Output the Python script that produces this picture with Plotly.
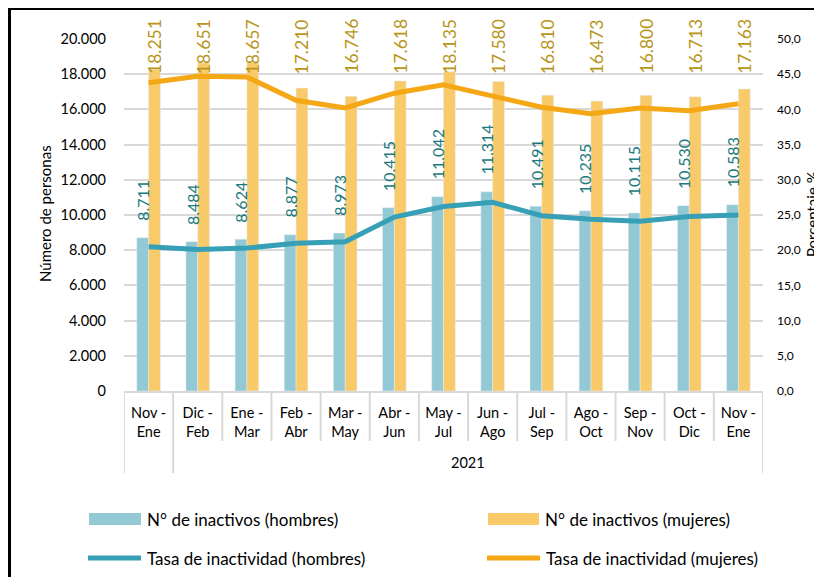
import plotly.graph_objects as go

# ---------------- data ----------------
periods = ["Nov -<br>Ene", "Dic -<br>Feb", "Ene -<br>Mar", "Feb -<br>Abr", "Mar -<br>May",
           "Abr -<br>Jun", "May -<br>Jul", "Jun -<br>Ago", "Jul -<br>Sep", "Ago -<br>Oct",
           "Sep -<br>Nov", "Oct -<br>Dic", "Nov -<br>Ene"]
year_label = "2021"
inactivos_hombres = [8711, 8484, 8624, 8877, 8973, 10415, 11042, 11314, 10491, 10235, 10115, 10530, 10583]
inactivos_mujeres = [18251, 18651, 18657, 17210, 16746, 17618, 18135, 17580, 16810, 16473, 16800, 16713, 17163]
tasa_hombres = [20.5, 20.1, 20.3, 21.0, 21.2, 24.7, 26.2, 26.8, 24.9, 24.4, 24.1, 24.8, 25.0]
tasa_mujeres = [43.8, 44.7, 44.6, 41.3, 40.2, 42.3, 43.5, 41.9, 40.3, 39.4, 40.2, 39.8, 40.8]
left_ticks = list(range(0, 20001, 2000))
right_ticks = [i * 5 for i in range(11)]

# ---------------- style ----------------
FONT = "Lato, Liberation Sans, Arial, sans-serif"
C_BAR_H = "#92C9D4"
C_BAR_M = "#F9CA6A"
C_LINE_H = "#37A0B6"
C_LINE_M = "#F5A815"
C_TXT_H = "#1A7A80"
C_TXT_M = "#B8951A"
GRID = "#D9D9D9"

OFF = 8  # page body margin offset
W, H = 822 - OFF, 577 - OFF
ML, MR, MT, MB = 124 - OFF, 59, 39 - OFF, 186
PW, PH = W - ML - MR, H - MT - MB


def px(xp):
    # page pixel x -> paper fraction
    return (xp - OFF - ML) / PW


def py(yp):
    # page pixel y -> paper fraction
    return (H - MB - (yp - OFF)) / PH


def fmt(v):
    return f"{v:,}".replace(",", ".")


xs = list(range(len(periods)))

fig = go.Figure()
fig.add_trace(go.Bar(x=xs, y=inactivos_hombres, name="N° de inactivos (hombres)",
                     marker_color=C_BAR_H, showlegend=False))
fig.add_trace(go.Bar(x=xs, y=inactivos_mujeres, name="N° de inactivos (mujeres)",
                     marker_color=C_BAR_M, showlegend=False))
fig.add_trace(go.Scatter(x=xs, y=tasa_hombres, name="Tasa de inactividad (hombres)", yaxis="y2",
                         mode="lines", line=dict(color=C_LINE_H, width=5), showlegend=False))
fig.add_trace(go.Scatter(x=xs, y=tasa_mujeres, name="Tasa de inactividad (mujeres)", yaxis="y2",
                         mode="lines", line=dict(color=C_LINE_M, width=5), showlegend=False))

annotations = []
shapes = []

# bar value labels
group_frac = 0.48
bar_off = PW / len(periods) * group_frac / 4
for i, v in enumerate(inactivos_hombres):
    annotations.append(dict(x=i, y=v, xref="x", yref="y", text=fmt(v), textangle=-90,
                            showarrow=False, xanchor="center", yanchor="bottom",
                            xshift=-bar_off, yshift=15,
                            font=dict(family=FONT, size=16, color=C_TXT_H)))
for i, v in enumerate(inactivos_mujeres):
    annotations.append(dict(x=i, y=py(76), xref="x", yref="paper", text=fmt(v), textangle=-90,
                            showarrow=False, xanchor="center", yanchor="bottom",
                            xshift=bar_off, yshift=0,
                            font=dict(family=FONT, size=17.5, color=C_TXT_M)))

# category separators (multi-level axis look)
for k in range(len(periods) + 1):
    xb = k - 0.5
    long = k in (0, 1, len(periods))
    shapes.append(dict(type="line", xref="x", yref="paper", x0=xb, x1=xb,
                       y0=0, y1=py(473) if long else py(441),
                       line=dict(color=GRID, width=2), layer="below"))
annotations.append(dict(x=(1 + len(periods) - 1) / 2, y=py(462), xref="x", yref="paper",
                        text=year_label, showarrow=False, xanchor="center", yanchor="middle",
                        font=dict(family=FONT, size=14.5, color="#000000")))

# axis titles
annotations.append(dict(x=px(45), y=py(214), xref="paper", yref="paper", text="Número de personas",
                        textangle=-90, showarrow=False, xanchor="center", yanchor="middle",
                        font=dict(family=FONT, size=15, color="#000000")))
annotations.append(dict(x=px(812), y=py(214), xref="paper", yref="paper", text="Porcentaje %",
                        textangle=-90, showarrow=False, xanchor="center", yanchor="middle",
                        font=dict(family=FONT, size=15, color="#000000")))

# custom legend
legend_items = [
    ("bar", C_BAR_H, "N° de inactivos (hombres)", 89, 141, 519),
    ("bar", C_BAR_M, "N° de inactivos (mujeres)", 488, 539, 519),
    ("line", C_LINE_H, "Tasa de inactividad (hombres)", 88, 141, 558),
    ("line", C_LINE_M, "Tasa de inactividad (mujeres)", 487, 540, 558),
]
for kind, col, label, x0, x1, yc in legend_items:
    if kind == "bar":
        shapes.append(dict(type="rect", xref="paper", yref="paper", x0=px(x0), x1=px(x1),
                           y0=py(yc + 6), y1=py(yc - 6), line=dict(width=0), fillcolor=col))
    else:
        shapes.append(dict(type="line", xref="paper", yref="paper", x0=px(x0), x1=px(x1),
                           y0=py(yc), y1=py(yc), line=dict(color=col, width=5)))
    annotations.append(dict(x=px(x1 + 4), y=py(yc), xref="paper", yref="paper", text=label,
                            showarrow=False, xanchor="left", yanchor="middle",
                            font=dict(family=FONT, size=17, color="#000000")))

# outer border
shapes.append(dict(type="rect", xref="paper", yref="paper", x0=px(9.5), x1=px(840),
                   y0=py(620), y1=py(8.5), line=dict(color="#000000", width=3)))

fig.update_layout(
    width=W, height=H,
    margin=dict(l=ML, r=MR, t=MT, b=MB, pad=0, autoexpand=False),
    paper_bgcolor="white", plot_bgcolor="white",
    separators=",.",
    barmode="group", bargap=1 - group_frac, bargroupgap=0,
    font=dict(family=FONT, size=14, color="#000000"),
    xaxis=dict(range=[-0.5, len(periods) - 0.5], tickvals=xs, ticktext=periods,
               showgrid=False, zeroline=False, showline=True, linecolor=GRID, linewidth=2,
               ticks="", tickfont=dict(family=FONT, size=14.5, color="#000000"),
               ticklabelstandoff=8, automargin=False, fixedrange=True),
    yaxis=dict(range=[0, 20000], tickvals=left_ticks, tickformat=",d",
               showgrid=True, gridcolor=GRID, gridwidth=1.5, zeroline=False,
               ticks="", ticklabelstandoff=17, automargin=False,
               tickfont=dict(family=FONT, size=14.5, color="#000000")),
    yaxis2=dict(range=[0, 50], tickvals=right_ticks, tickformat=".1f", overlaying="y",
                side="right", showgrid=False, zeroline=False, ticks="", ticklabelstandoff=13,
                automargin=False,
                tickfont=dict(family=FONT, size=12, color="#000000")),
    annotations=annotations,
    shapes=shapes,
    showlegend=False,
)

fig.write_html("out.html")
